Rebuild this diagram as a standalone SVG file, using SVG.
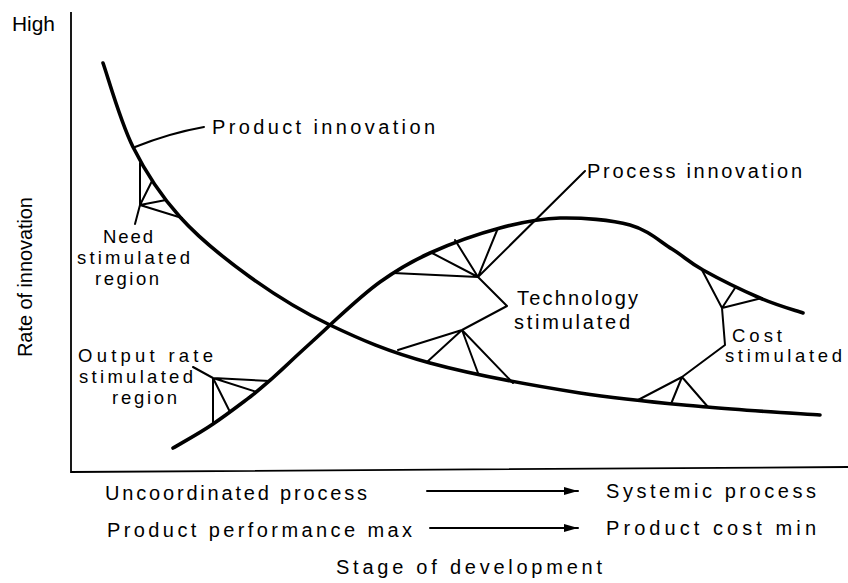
<svg xmlns="http://www.w3.org/2000/svg" width="848" height="583" viewBox="0 0 848 583">
<defs>
<style>
text{font-family:"Liberation Sans","DejaVu Sans",Arial,sans-serif;font-size:20px;fill:#000;}
.sm{font-size:18.5px;}
.curve{fill:none;stroke:#000;stroke-width:3.6;stroke-linecap:round;stroke-linejoin:round;}
.thin{fill:none;stroke:#000;stroke-width:2;stroke-linecap:round;stroke-linejoin:round;}
.axis{fill:none;stroke:#000;stroke-width:1.8;}
</style>
<marker id="ah" viewBox="0 0 14 8" refX="14" refY="4" markerWidth="14" markerHeight="8" markerUnits="userSpaceOnUse" orient="auto">
<path d="M0,0 L14,4 L0,8 z" fill="#000"/>
</marker>
</defs>
<rect width="848" height="583" fill="#fff"/>

<g id="axes">
<path class="axis" d="M71,12 L71,472 L848,467"/>
<text x="12" y="31" font-size="17" textLength="43" lengthAdjust="spacingAndGlyphs">High</text>
<text transform="translate(32,357) rotate(-90)" textLength="160" lengthAdjust="spacing">Rate of innovation</text>
</g>

<g id="product-innovation">
<path class="curve" d="M103,63 C108,77 120.2,121.3 133,147 C145.8,172.7 160.5,195.3 180,217 C199.5,238.7 225,259 250,277 C275,295 300,310.7 330,325 C360,339.3 388.3,351.7 430,363 C471.7,374.3 533.8,385.7 580,393 C626.2,400.3 667,403.3 707,407 C747,410.7 801.2,413.7 820,415"/>
<path class="thin" d="M135,147 Q170,133 204,127"/>
<text x="212" y="134" textLength="223" lengthAdjust="spacing">Product innovation</text>
</g>

<g id="process-innovation">
<path class="curve" d="M173,448 C185,441 200,433 213,424 C227,414.5 238,406 250,397 C264,386 277,374.5 290,362 C303,349.5 316.5,338 330,325 C343.3,312.8 363.3,294 380,282 C396.7,270 410,262 430,253 C450,244 478.3,233.8 500,228 C521.7,222.2 538.3,218.5 560,218 C581.7,217.5 611.3,219.8 630,225 C648.7,230.2 659.8,241.5 672,249 C684.2,256.5 688.3,261.8 703,270 C717.7,278.2 743.3,290.8 760,298 C776.7,305.2 795.8,310.5 803,313"/>
<text x="587" y="178" textLength="215" lengthAdjust="spacing">Process innovation</text>
</g>

<g id="need-stimulated">
<path class="thin" d="M140,163 L140,205 L152,181 M140,205 L166,200 M140,205 L182,218 M140,205 L135,224"/>
<text class="sm" x="103" y="243" textLength="50" lengthAdjust="spacing">Need</text>
<text class="sm" x="77" y="264" textLength="113" lengthAdjust="spacing">stimulated</text>
<text class="sm" x="95" y="285" textLength="64" lengthAdjust="spacing">region</text>
</g>

<g id="output-rate-stimulated">
<path class="thin" d="M193,367 L213,378 L270,381 M213,378 L257,392 M213,378 L230,412 M213,378 L213,423"/>
<text class="sm" x="78" y="362" textLength="135" lengthAdjust="spacing">Output rate</text>
<text class="sm" x="79" y="383" textLength="114" lengthAdjust="spacing">stimulated</text>
<text class="sm" x="112" y="404" textLength="65" lengthAdjust="spacing">region</text>
</g>

<g id="technology-stimulated">
<path class="thin" d="M585,171 L478,277 L393,273 M478,277 L432,253 M478,277 L455,240 M478,277 L498,228 M478,277 L507,306 L462,330 L398,350 M462,330 L427,362 M462,330 L478,373 M462,330 L513,383"/>
<text x="517" y="305" textLength="121" lengthAdjust="spacing">Technology</text>
<text x="514" y="329" textLength="116" lengthAdjust="spacing">stimulated</text>
</g>

<g id="cost-stimulated">
<path class="thin" d="M702,270 L722,308 L735,288 M722,308 L762,298 M722,308 L725,345 L682,377 L638,400 M682,377 L671,404 M682,377 L708,407"/>
<text class="sm" x="732" y="342" textLength="50" lengthAdjust="spacing">Cost</text>
<text class="sm" x="725" y="362" textLength="117" lengthAdjust="spacing">stimulated</text>
</g>

<g id="connectors">
<line class="thin" x1="427" y1="491" x2="578" y2="491" marker-end="url(#ah)"/>
<line class="thin" x1="430" y1="528" x2="578" y2="528" marker-end="url(#ah)"/>
</g>

<g id="x-labels">
<text x="105" y="500" textLength="262" lengthAdjust="spacing">Uncoordinated process</text>
<text x="606" y="498" textLength="210" lengthAdjust="spacing">Systemic process</text>
<text x="107" y="537" textLength="305" lengthAdjust="spacing">Product performance max</text>
<text x="606" y="535" textLength="210" lengthAdjust="spacing">Product cost min</text>
<text x="336" y="574" textLength="266" lengthAdjust="spacing">Stage of development</text>
</g>
</svg>
